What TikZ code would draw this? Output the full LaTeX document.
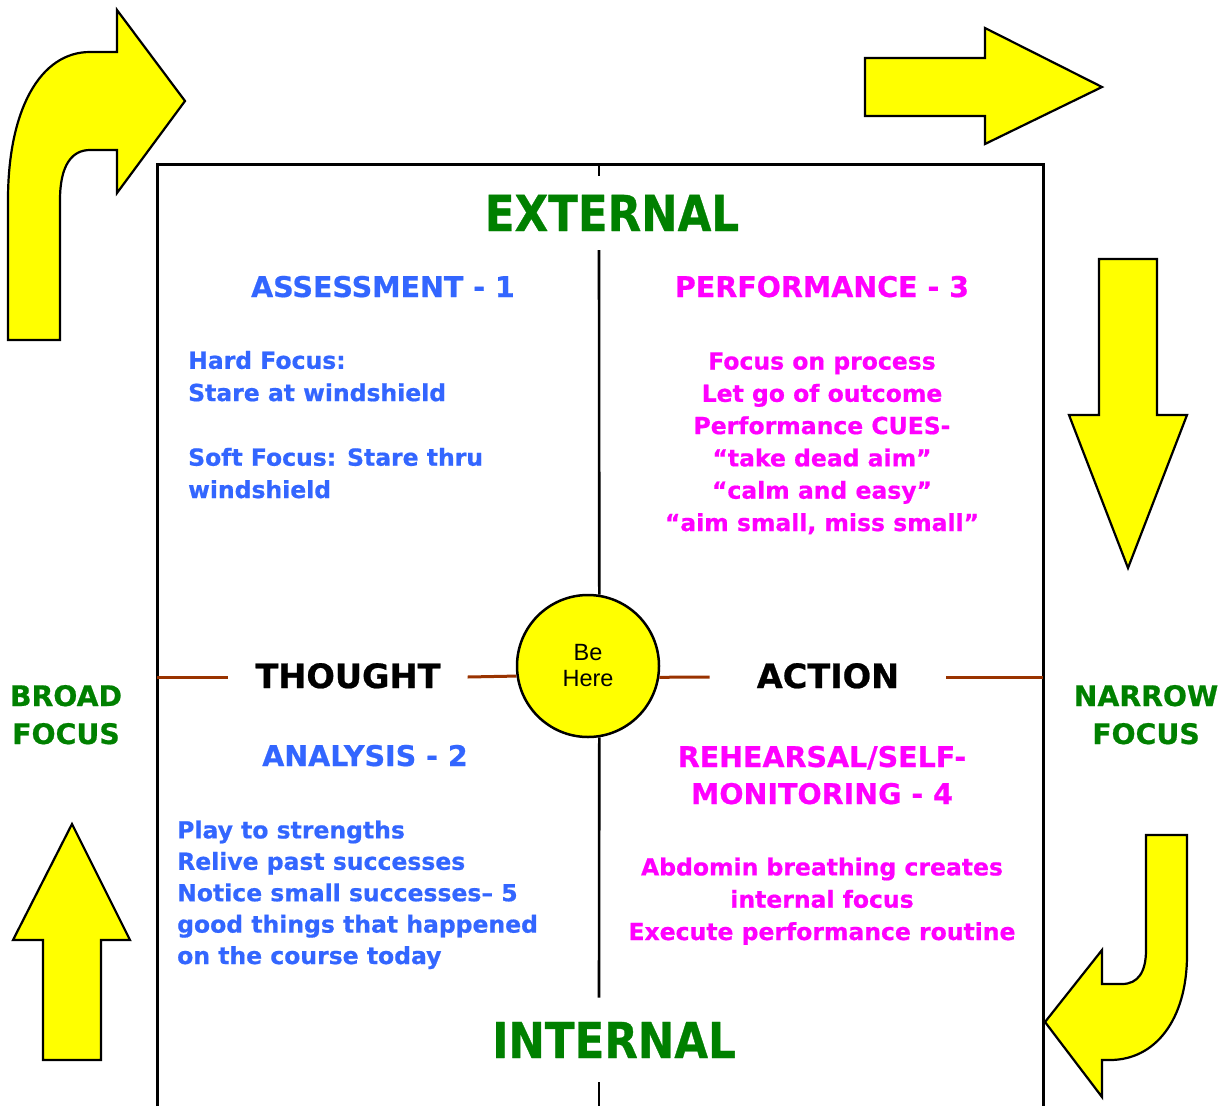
\documentclass[tikz,border=0pt]{standalone}
\usepackage{fontspec}
\usepackage{graphicx}
\setmainfont{DejaVu Sans}[BoldFeatures={FakeBold=0.7}]
\newfontfamily\arialfont{Liberation Sans}
\usetikzlibrary{calc}
\definecolor{qblue}{HTML}{3366FF}
\definecolor{qmagenta}{HTML}{FF00FF}
\definecolor{qgreen}{HTML}{008000}
\definecolor{qbrown}{HTML}{993300}
\definecolor{qyellow}{HTML}{FFFF00}
\begin{document}
\begin{tikzpicture}[x=1pt,y=-1pt,
  bigarrow/.style={fill=qyellow,draw=black,line width=2.2pt,line join=miter},
  frameline/.style={draw=black,line width=3pt},
  midline/.style={draw=black,line width=2.6pt},
  crossline/.style={draw=qbrown,line width=3pt},
  heading/.style={font=\bfseries\fontsize{28.5}{37}\selectfont,inner sep=0pt},
  bodytext/.style={font=\bfseries\fontsize{23.5}{32.3}\selectfont,inner sep=0pt},
  axislabel/.style={font=\bfseries\fontsize{49.5}{55}\selectfont,text=qgreen},
  sidelabel/.style={font=\bfseries\fontsize{28.3}{38}\selectfont,text=qgreen,align=center,inner sep=0pt},
  poletext/.style={font=\bfseries\fontsize{33.5}{40}\selectfont,text=black,inner ysep=0pt}]
\useasboundingbox (0,0) rectangle (1229,1106);

% yellow direction arrows
\draw[bigarrow] (8,340) -- (8,200) .. controls (8,110) and (40,52) .. (90,52)
  -- (117,52) -- (117,10) -- (185,101) -- (117,193) -- (117,150) -- (90,150)
  .. controls (72,150) and (60,165) .. (60,200) -- (60,340) -- cycle;
\draw[bigarrow] (865,58) -- (985,58) -- (985,28) -- (1102,87) -- (985,144)
  -- (985,116) -- (865,116) -- cycle;
\draw[bigarrow] (1099,259) -- (1157,259) -- (1157,415) -- (1187,415)
  -- (1128,568) -- (1069,415) -- (1099,415) -- cycle;
\draw[bigarrow] (43,1060) -- (43,940) -- (13,940) -- (72,824) -- (130,940)
  -- (101,940) -- (101,1060) -- cycle;
\draw[bigarrow] (1146,835) -- (1187,835) -- (1187,955)
  .. controls (1187,1020) and (1155,1060) .. (1110,1060) -- (1102,1060)
  -- (1102,1097) -- (1045,1022) -- (1102,950) -- (1102,984) -- (1122,984)
  .. controls (1138,984) and (1146,972) .. (1146,950) -- cycle;

% frame corners and axis ends
\coordinate (fbl) at (157,1106);
\coordinate (ftl) at (157,164);
\coordinate (ftr) at (1043,164);
\coordinate (fbr) at (1043,1106);
\coordinate (vtop) at (599,164);
\coordinate (vbot) at (599,1106);
\coordinate (hleft) at (157,677);
\coordinate (hright) at (1043,677);

\draw[frameline] (fbl) -- (ftl) -- (ftr) -- (fbr);

% axis labels
\node[axislabel,anchor=base,inner ysep=19pt] (ext) at (612,231) {\scalebox{0.88}[1]{EXTERNAL}};
\node[axislabel,anchor=base,inner ysep=24pt] (int) at (614,1058) {\scalebox{0.88}[1]{INTERNAL}};

\node[circle,draw=black,fill=qyellow,line width=2.5pt,minimum size=142pt,inner sep=0pt,
  font=\arialfont\fontsize{23.5}{26}\selectfont,align=center] (behere) at (588,666) {Be\\Here};

\node[poletext,anchor=base,inner xsep=27pt] (thought) at (348,688) {THOUGHT};
\node[poletext,anchor=base,inner xsep=47pt] (action) at (828,688) {ACTION};

% vertical axis
\draw[midline] (vtop) -- (vtop |- ext.north);
\draw[midline] (vtop |- ext.south) -- (behere.81);
\draw[midline] (behere.-81) -- (vtop |- int.north);
\draw[midline] (vtop |- int.south) -- (vbot);

% horizontal axis
\draw[crossline] (hleft) -- (hleft -| thought.west);
\draw[crossline] (hleft -| thought.east) -- (behere.188.9);
\draw[crossline] (behere.351.1) -- (hleft -| action.west);
\draw[crossline] (hleft -| action.east) -- (hright);

% side labels (placed by the baseline of their last line)
\node[sidelabel,anchor=base] (broad) at (66,744) {BROAD\\FOCUS};
\node[sidelabel,anchor=base] (narrow) at (1146,744) {NARROW\\FOCUS};

% quadrant 1
\node[heading,text=qblue,anchor=base] (assess) at (383,297) {ASSESSMENT - 1};
\node[bodytext,text=qblue,anchor=base west,align=left] (assessbody) at (188,498)
  {Hard Focus:\\Stare at windshield\\[32.3pt]Soft Focus: Stare thru\\windshield};

% quadrant 3
\node[heading,text=qmagenta,anchor=base] (perf) at (822,297) {PERFORMANCE - 3};
\node[bodytext,text=qmagenta,anchor=base,align=center] (perfbody) at (822,531)
  {Focus on process\\Let go of outcome\\Performance CUES-\\“take dead aim”\\“calm and easy”\\“aim small, miss small”};

% quadrant 2
\node[heading,text=qblue,anchor=base] (analysis) at (365,766) {ANALYSIS - 2};
\node[bodytext,text=qblue,anchor=base west,align=left,
  font=\bfseries\fontsize{23.5}{31.4}\selectfont] (analysisbody) at (177,964)
  {Play to strengths\\Relive past successes\\Notice small successes– 5\\good things that happened\\on the course today};

% quadrant 4
\node[heading,text=qmagenta,anchor=base,align=center] (rehearse) at (822,804) {REHEARSAL/SELF-\\MONITORING - 4};
\node[bodytext,text=qmagenta,anchor=base,align=center] (rehearsebody) at (822,940)
  {Abdomin breathing creates\\internal focus\\Execute performance routine};
\end{tikzpicture}
\end{document}
